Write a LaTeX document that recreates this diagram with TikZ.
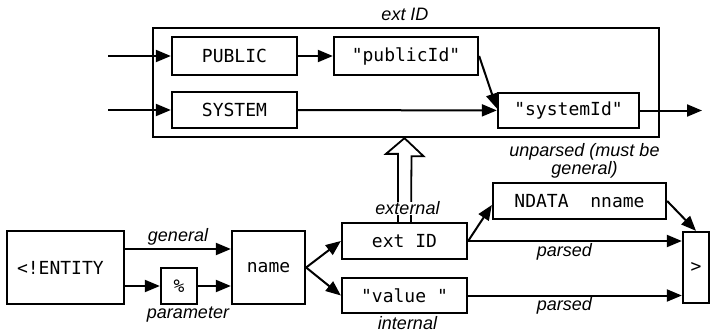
\documentclass[tikz,border=0pt]{standalone}
\usepackage{fontspec}
\setmainfont{Liberation Sans}
\setmonofont{DejaVu Sans Mono}
\usetikzlibrary{arrows.meta,positioning,calc}

\begin{document}
\begin{tikzpicture}[x=1pt,y=-1pt,line width=2pt,
  >={Triangle[length=15pt,width=12pt]},
  box/.style={draw,line width=2.3pt,inner sep=0pt,font=\ttfamily\fontsize{18}{20}\selectfont},
  lbl/.style={inner sep=1pt,align=center,font=\itshape\fontsize{18}{14}\selectfont}]
\useasboundingbox (0,0) rectangle (710,332);

% ext ID
\node[draw,line width=2.3pt,minimum width=506pt,minimum height=109pt] (outer) at (406,82.5) {};
\node[lbl,above=4pt of outer,xshift=-1pt] {ext ID};
\node[box,minimum width=125pt,minimum height=38pt] (public) at (234.5,56) {PUBLIC};
\node[box,minimum width=125pt,minimum height=36pt] (system) at (234.5,110) {SYSTEM};
\node[box,minimum width=144pt,minimum height=38pt] (pubid) at (406,56) {"publicId"};
\node[box,minimum width=141pt,minimum height=35pt] (sysid) at (568.5,110.5) {"systemId"};
\coordinate (inpub) at (108,56);
\coordinate (insys) at (108,110);
\coordinate (outsys) at (702,110.5);
\draw[->] (inpub) -- (public);
\draw[->] (insys) -- (system);
\draw[->] (public) -- (pubid);
\draw[->] (system) -- (sysid);
\draw[->] (pubid.east) -- ([yshift=2pt]sysid.west);
\draw[->] (sysid) -- (outsys);

% entity declaration
\node[box,minimum width=117pt,minimum height=73pt,text width=97pt,align=left] (entity) at (65.5,267.5) {<!ENTITY};
\node[box,minimum width=73pt,minimum height=73pt] (name) at (268.5,267.5) {name};
\node[box,minimum width=36pt,minimum height=36pt] (pct) at (179,286) {\%};
\node[box,minimum width=125pt,minimum height=36pt] (extid) at (404.5,241) {ext\ ID};
\node[box,minimum width=125pt,minimum height=35pt] (value) at (404.5,295.5) {"value\ "};
\node[box,minimum width=173pt,minimum height=36pt] (ndata) at (579.5,201) {NDATA\ \ nname};
\node[box,minimum width=26pt,minimum height=71pt] (gt) at (696,267.5) {>};

\draw[->] ([yshift=18.5pt]entity.east) -- ([yshift=18.5pt]name.west)
  node[lbl,midway,above=2pt] {general};
\draw[->] (entity.east |- pct.west) -- (pct.west);
\draw[->] (pct) -- (name.west |- pct);
\node[lbl,below=0pt of pct,xshift=9pt] {parameter};
\draw[->] (name.east) -- (extid.west);
\draw[->] (name.east) -- (value.west);

% hollow arrow up to ext ID
\draw[line width=1.8pt,fill=white] ($(extid.north)+(-6.5,0)$) -- ++(0,-68) -- ++(-12,0)
  -- (outer.south -| extid.north) -- ++(19,18) -- ++(-12,0) -- ($(extid.north)+(6.5,0)$);
\node[lbl,fill=white,inner sep=0pt,above=6pt of extid,xshift=3pt] {external};
\node[lbl,below=0pt of value,xshift=3pt] {internal};

\draw[->] (extid.east) -- ([yshift=-4pt]ndata.west);
\draw[->] (extid.east) -- (gt.west |- extid.east) node[lbl,pos=0.45,below] {parsed};
\draw[->] (value.east) -- (gt.west |- value.east) node[lbl,pos=0.45,below] {parsed};
\draw[->] (ndata.east) -- (gt.north);
\node[lbl,above=2pt of ndata,xshift=5pt] {unparsed (must be\\general)};
\end{tikzpicture}
\end{document}
